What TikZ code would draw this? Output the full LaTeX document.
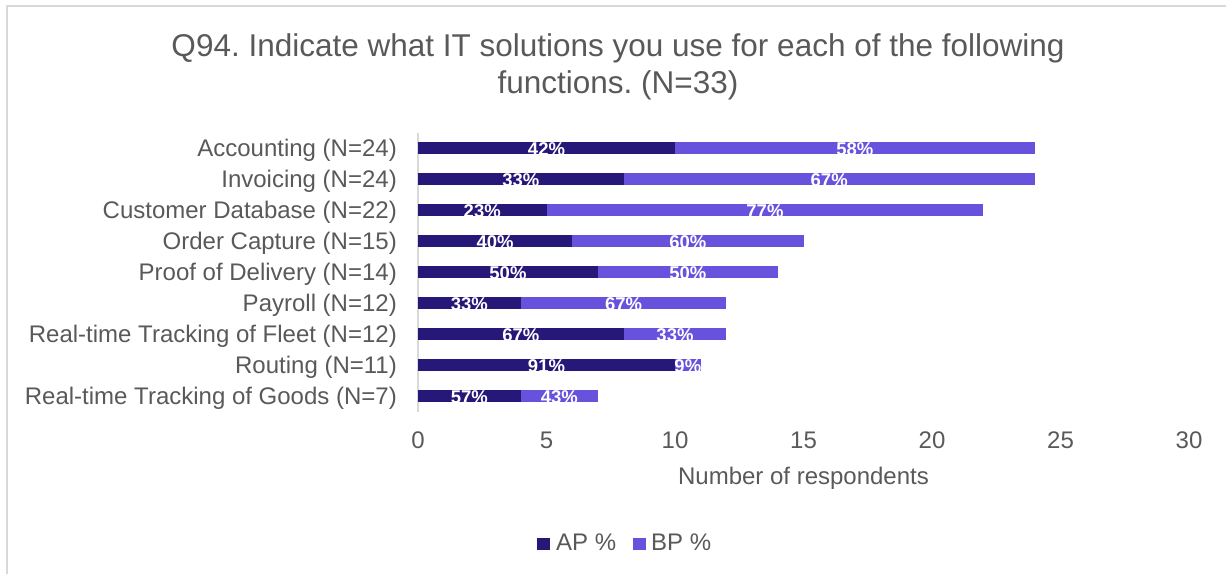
\documentclass[tikz,border=0pt]{standalone}
\usepackage{fontspec}
\setmainfont{Liberation Sans}
\definecolor{apblue}{HTML}{261878}
\definecolor{bppurple}{HTML}{6652DC}
\definecolor{txtgray}{HTML}{595959}
\definecolor{linegray}{HTML}{D9D9D9}
\frenchspacing

\begin{document}
\begin{tikzpicture}[x=1pt,y=1pt,
  titlefont/.style={anchor=base,text=txtgray,font=\fontsize{31.5}{37}\selectfont},
  catlabel/.style={anchor=base east,text=txtgray,font=\fontsize{24}{28}\selectfont},
  ticklabel/.style={anchor=base,text=txtgray,font=\fontsize{24}{28}\selectfont},
  pct/.style={anchor=base,text=white,font=\bfseries\fontsize{18.5}{20}\selectfont},
  apbar/.style={fill=apblue},
  bpbar/.style={fill=bppurple}]
\tikzstyle{every node}+=[inner sep=0pt]
\useasboundingbox (0,0) rectangle (1226,-574);
\draw [linegray,line width=1.5pt] (7,-574) -- (7,-6) -- (1226,-6);
\draw (618,-56) node[titlefont] (title1) {Q94. Indicate what IT solutions you use for each of the following};
\draw (618,-93) node[titlefont] (title2) {functions. (N=33)};
\draw (397,-156) node[catlabel] (accounting) {Accounting (N=24)};
\draw (397,-187) node[catlabel] (invoicing) {Invoicing (N=24)};
\draw (397,-218) node[catlabel] (customer) {Customer Database (N=22)};
\draw (397,-249) node[catlabel] (order) {Order Capture (N=15)};
\draw (397,-280) node[catlabel] (proof) {Proof of Delivery (N=14)};
\draw (397,-311) node[catlabel] (payroll) {Payroll (N=12)};
\draw (397,-342) node[catlabel] (fleet) {Real-time Tracking of Fleet (N=12)};
\draw (397,-373) node[catlabel] (routing) {Routing (N=11)};
\draw (397,-404) node[catlabel] (goods) {Real-time Tracking of Goods (N=7)};
\draw [linegray,line width=1.5pt] (418,-133) -- (418,-412);
\begin{scope}[shift={(418,0)},x=25.7pt]
\fill [apbar] (0,-142) rectangle (10,-154);
\fill [bpbar] (10,-142) rectangle (24,-154);
\draw (5,-155) node[pct] (acc-ap) {42\%};
\draw (17,-155) node[pct] (acc-bp) {58\%};
\fill [apbar] (0,-173) rectangle (8,-185);
\fill [bpbar] (8,-173) rectangle (24,-185);
\draw (4,-186) node[pct] (inv-ap) {33\%};
\draw (16,-186) node[pct] (inv-bp) {67\%};
\fill [apbar] (0,-204) rectangle (5,-216);
\fill [bpbar] (5,-204) rectangle (22,-216);
\draw (2.5,-217) node[pct] (cus-ap) {23\%};
\draw (13.5,-217) node[pct] (cus-bp) {77\%};
\fill [apbar] (0,-235) rectangle (6,-247);
\fill [bpbar] (6,-235) rectangle (15,-247);
\draw (3,-248) node[pct] (ord-ap) {40\%};
\draw (10.5,-248) node[pct] (ord-bp) {60\%};
\fill [apbar] (0,-266) rectangle (7,-278);
\fill [bpbar] (7,-266) rectangle (14,-278);
\draw (3.5,-279) node[pct] (pro-ap) {50\%};
\draw (10.5,-279) node[pct] (pro-bp) {50\%};
\fill [apbar] (0,-297) rectangle (4,-309);
\fill [bpbar] (4,-297) rectangle (12,-309);
\draw (2,-310) node[pct] (pay-ap) {33\%};
\draw (8,-310) node[pct] (pay-bp) {67\%};
\fill [apbar] (0,-328) rectangle (8,-340);
\fill [bpbar] (8,-328) rectangle (12,-340);
\draw (4,-341) node[pct] (fle-ap) {67\%};
\draw (10,-341) node[pct] (fle-bp) {33\%};
\fill [apbar] (0,-359) rectangle (10,-371);
\fill [bpbar] (10,-359) rectangle (11,-371);
\draw (5,-372) node[pct] (rou-ap) {91\%};
\draw (10.5,-372) node[pct] (rou-bp) {9\%};
\fill [apbar] (0,-390) rectangle (4,-402);
\fill [bpbar] (4,-390) rectangle (7,-402);
\draw (2,-403) node[pct] (goo-ap) {57\%};
\draw (5.5,-403) node[pct] (goo-bp) {43\%};
\draw (0,-448) node[ticklabel] (t0) {0};
\draw (5,-448) node[ticklabel] (t5) {5};
\draw (10,-448) node[ticklabel] (t10) {10};
\draw (15,-448) node[ticklabel] (t15) {15};
\draw (20,-448) node[ticklabel] (t20) {20};
\draw (25,-448) node[ticklabel] (t25) {25};
\draw (30,-448) node[ticklabel] (t30) {30};
\draw (15,-484) node[ticklabel] (xtitle) {Number of respondents};
\end{scope}
\fill [apbar] (537,-538) rectangle (550,-550);
\draw (556,-550) node[ticklabel,anchor=base west] (legap) {AP \%};
\fill [bpbar] (633,-538) rectangle (646,-550);
\draw (651,-550) node[ticklabel,anchor=base west] (legbp) {BP \%};
\end{tikzpicture}
\end{document}
